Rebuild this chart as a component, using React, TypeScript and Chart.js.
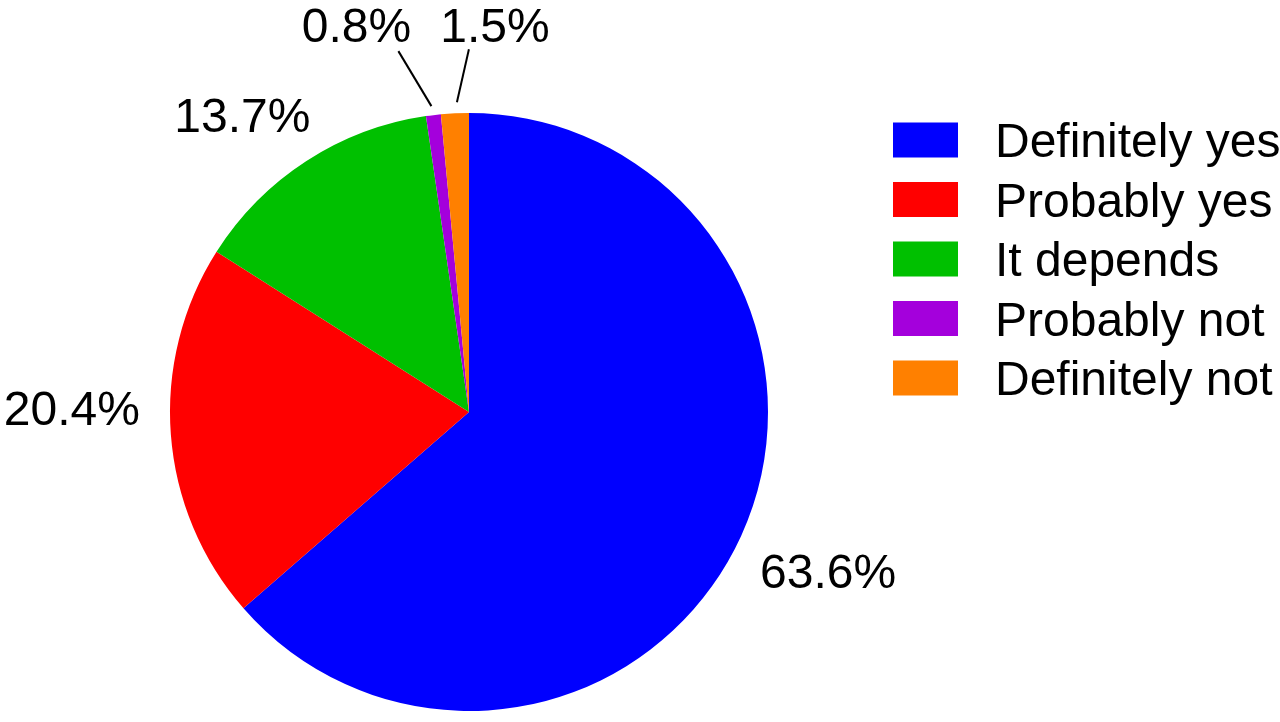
import React, { useEffect, useRef } from "react";
import { Chart, registerables } from "chart.js";

Chart.register(...registerables);

const categories = ["Definitely yes", "Probably yes", "It depends", "Probably not", "Definitely not"];
const values = [63.6, 20.4, 13.7, 0.8, 1.5];
const valueLabels = ["63.6%", "20.4%", "13.7%", "0.8%", "1.5%"];
const colors = ["#0000FF", "#FF0000", "#00C000", "#A400DC", "#FF8000"];

// label text baseline-center offsets from each slice's outer midpoint
const labelOffsets = [
  [87, 52],
  [-99, -10],
  [-64, -29],
  [-77, -73],
  [40, -71],
];
// leader lines for small slices: [from offset, to offset] relative to outer midpoint
const leaderLines: (number[][] | null)[] = [
  null,
  null,
  null,
  [[-2, -9], [-35, -64]],
  [[2, -11], [14, -64]],
];

const FONT = '48px "Liberation Sans", Arial, sans-serif';

const labelPlugin = {
  id: "customLabels",
  afterDraw(chart: any) {
    const ctx = chart.ctx;
    const meta = chart.getDatasetMeta(0);
    ctx.save();
    ctx.font = FONT;
    ctx.fillStyle = "#000";
    ctx.strokeStyle = "#000";
    ctx.lineWidth = 2;
    ctx.textAlign = "center";
    ctx.textBaseline = "alphabetic";
    meta.data.forEach((arc: any, i: number) => {
      const p = arc.getProps(["x", "y", "startAngle", "endAngle", "outerRadius"], true);
      const mid = (p.startAngle + p.endAngle) / 2;
      const px = p.x + Math.cos(mid) * p.outerRadius;
      const py = p.y + Math.sin(mid) * p.outerRadius;
      const off = labelOffsets[i];
      ctx.fillText(valueLabels[i], px + off[0], py + off[1]);
      const ll = leaderLines[i];
      if (ll) {
        ctx.beginPath();
        ctx.moveTo(px + ll[0][0], py + ll[0][1]);
        ctx.lineTo(px + ll[1][0], py + ll[1][1]);
        ctx.stroke();
      }
    });
    // legend
    const boxX = 893;
    const boxW = 65;
    const boxH = 35;
    const textX = 995;
    const firstY = 140;
    const step = 59.5;
    ctx.textAlign = "left";
    categories.forEach((c, i) => {
      const cy = firstY + i * step;
      ctx.fillStyle = colors[i];
      ctx.fillRect(boxX, cy - boxH / 2, boxW, boxH);
      ctx.fillStyle = "#000";
      ctx.fillText(c, textX, cy + 17);
    });
    ctx.restore();
  },
};

export default function App() {
  const ref = useRef<HTMLCanvasElement | null>(null);
  useEffect(() => {
    document.body.style.margin = "0";
    const canvas = ref.current;
    if (!canvas) return;
    const chart = new Chart(canvas, {
      type: "pie",
      data: {
        labels: categories,
        datasets: [
          {
            data: values,
            backgroundColor: colors,
            borderWidth: 0,
          },
        ],
      },
      options: {
        responsive: false,
        animation: false,
        devicePixelRatio: 1,
        layout: { padding: { left: 170, right: 512, top: 113, bottom: 11 } },
        plugins: {
          legend: { display: false },
          tooltip: { enabled: false },
        },
      },
      plugins: [labelPlugin],
    });
    return () => chart.destroy();
  }, []);
  return (
    <div style={{ position: "fixed", left: 0, top: 0, width: 1280, height: 722, background: "#fff" }}>
      <canvas ref={ref} width={1280} height={722} />
    </div>
  );
}
